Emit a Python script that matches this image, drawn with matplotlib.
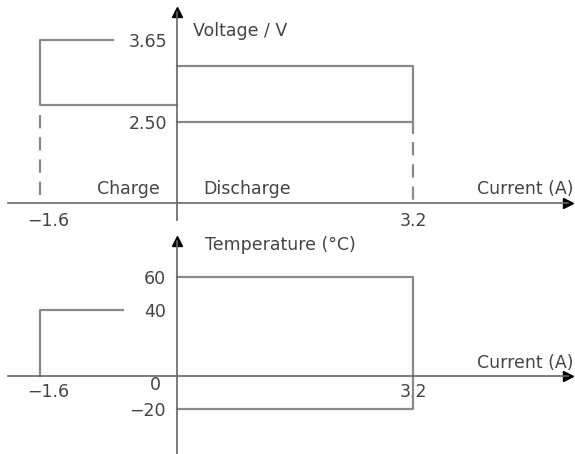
import numpy as np
import matplotlib.pyplot as plt
import matplotlib.transforms as mtransforms

corrente_ticks = [-1.6, 3.2]
i_carga = -1.6
i_descarga = 3.2
v_carga = [2.74, 3.65]       # janela de tensão na carga (min, max)
v_descarga = [2.50, 3.29]    # janela de tensão na descarga
v_ticks = [2.50, 3.65]
v_labels = ['2.50', '3.65']
t_carga = [0, 40]            # temperatura na carga (°C)
t_descarga = [-20, 60]       # temperatura na descarga (°C)
t_ticks = [60, 40, -20]
t_labels = ['60', '40', '\u221220']
corrente_labels = ['\u22121.6', '3.2']

plt.rcParams['font.family'] = ['DejaVu Sans']
plt.rcParams['font.size'] = 12.5

cor_linha = '#8a8a8a'
cor_eixo = '#666666'
cor_texto = '#444444'

# escala do eixo x: lado negativo esticado (esquema fora de escala)
k = 1.161
def fwd(x):
    x = np.asarray(x, dtype=float)
    return np.where(x < 0, x * k, x)

def inv(t):
    t = np.asarray(t, dtype=float)
    return np.where(t < 0, t / k, t)

W, H = 575, 454
fig = plt.figure(figsize=(W / 100, H / 100), dpi=100)

ax1 = fig.add_axes([8 / W, (H - 220) / H, 560 / W, 208 / H])
ax2 = fig.add_axes([8 / W, 0, 560 / W, 213 / H])

eixo_v = 1.36  # posição da linha de corrente no painel de tensão

def prepara(ax, y_eixo, ylim):
    ax.set_xscale('function', functions=(fwd, inv))
    ax.set_xlim(-1.974, 5.302)
    ax.set_ylim(*ylim)
    for s in ['top', 'right']:
        ax.spines[s].set_visible(False)
    ax.spines['left'].set_position(('data', 0))
    ax.spines['bottom'].set_position(('data', y_eixo))
    for s in ['left', 'bottom']:
        ax.spines[s].set_color(cor_eixo)
        ax.spines[s].set_linewidth(1.2)
    ax.tick_params(length=0, colors=cor_texto, labelsize=12.5)
    ax.patch.set_alpha(0)
    ax.plot(1, y_eixo, '>', color='k', ms=7, transform=ax.get_yaxis_transform(), clip_on=False)
    ax.plot(0, 1, '^', color='k', ms=7, transform=ax.get_xaxis_transform(), clip_on=False)

def desloca_rotulo(ax, dx):
    # o rótulo −1.6 fica um pouco à direita da sua marca no original
    lab = ax.get_xticklabels()[0]
    lab.set_transform(lab.get_transform() +
                      mtransforms.ScaledTranslation(dx / 100, 0, fig.dpi_scale_trans))

# ---- painel de tensão
prepara(ax1, eixo_v, (1.126, 4.043))
ax1.set_xticks(corrente_ticks, labels=corrente_labels)
ax1.set_yticks(v_ticks, labels=v_labels)
ax1.tick_params(axis='x', pad=6)
ax1.tick_params(axis='y', pad=7)
desloca_rotulo(ax1, 8)

kw = dict(color=cor_linha, lw=1.6, clip_on=False)
ax1.plot([-0.75, i_carga, i_carga, 0], [v_carga[1], v_carga[1], v_carga[0], v_carga[0]], **kw)
ax1.plot([0, i_descarga, i_descarga], [v_descarga[1], v_descarga[1], 2.35], **kw)
ax1.plot([0, i_descarga], [v_descarga[0], v_descarga[0]], **kw)
ax1.plot([i_carga, i_carga], [2.60, eixo_v], ls=(0, (6, 4)), **kw)
ax1.plot([i_descarga, i_descarga], [2.22, eixo_v], ls=(0, (6, 4)), **kw)

ax1.text(0.217, 3.776, 'Voltage / V', color=cor_texto, va='center', ha='left')
ax1.text(-0.2, 1.56, 'Charge', color=cor_texto, va='center', ha='right')
ax1.text(0.35, 1.56, 'Discharge', color=cor_texto, va='center', ha='left')
ax1.text(5.37, 1.56, 'Current (A)', color=cor_texto, va='center', ha='right')

# ---- painel de temperatura
prepara(ax2, 0, (-47.3, 81.8))
ax2.set_xticks(corrente_ticks, labels=corrente_labels)
ax2.set_yticks(t_ticks, labels=t_labels)
ax2.tick_params(axis='x', pad=5)
ax2.tick_params(axis='y', pad=8)
desloca_rotulo(ax2, 8)

ax2.plot([-0.63, i_carga, i_carga], [t_carga[1], t_carga[1], t_carga[0]], **kw)
ax2.plot([0, i_descarga, i_descarga, 0],
         [t_descarga[1], t_descarga[1], t_descarga[0], t_descarga[0]], **kw)

ax2.annotate('0', (0, 0), xytext=(-22, -9), textcoords='offset pixels',
             color=cor_texto, ha='center', va='center')
ax2.text(0.38, 79.4, 'Temperature (\u00b0C)', color=cor_texto, va='center', ha='left')
ax2.text(5.37, 7.9, 'Current (A)', color=cor_texto, va='center', ha='right')

plt.savefig('out.png', dpi=100)
